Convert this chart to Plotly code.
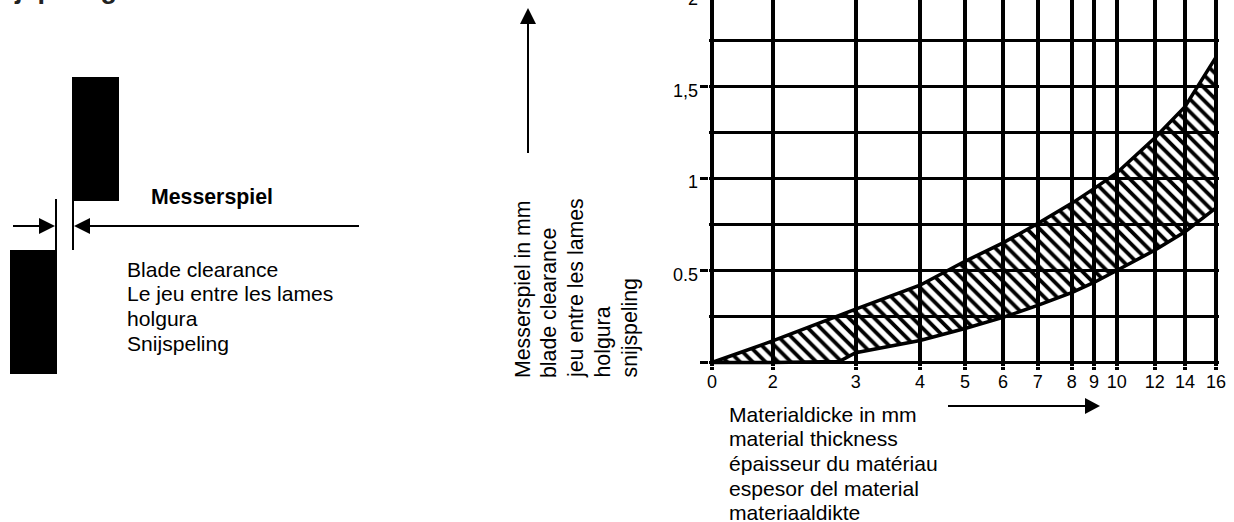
import numpy as np
import plotly.graph_objects as go

W, H = 1234, 522

# ---- data ----
thickness_ticks = [0, 2, 3, 4, 5, 6, 7, 8, 9, 10, 12, 14, 16]
upper_clearance = [0, 0.117, 0.29, 0.42, 0.55, 0.65, 0.755, 0.865, 0.945, 1.03, 1.22, 1.39, 1.66]
lower_thickness = [0, 2, 2.8, 3, 4, 5, 6, 7, 8, 9, 10, 12, 14, 16]
lower_clearance = [0, 0, 0.005, 0.053, 0.12, 0.185, 0.245, 0.31, 0.38, 0.435, 0.50, 0.61, 0.71, 0.84]
y_major = [0, 0.5, 1, 1.5, 2]
y_minor = [0.25, 0.75, 1.25, 1.75]
y_label_vals = [0.5, 1, 1.5, 2]
y_label_text = ["0.5", "1", "1,5", "2"]

blade_lines = ["Blade clearance", "Le jeu entre les lames", "holgura", "Snijspeling"]
y_title_lines = ["Messerspiel in mm", "blade clearance", "jeu entre les lames", "holgura", "snijspeling"]
x_title_lines = ["Materialdicke in mm", "material thickness", "épaisseur du matériau", "espesor del material", "materiaaldikte"]

# ---- hand-drawn non-uniform thickness scale of the printed chart ----
scale_marks = [712, 772.7, 855.7, 920, 965, 1003, 1037.7, 1071.7, 1094, 1116.7, 1154.7, 1185, 1216]
def pos(t):
    return np.interp(t, thickness_ticks, scale_marks).tolist()

Y0, UNIT = 362.5, 184.0
PAD = 3  # keeps the grid lines at 0 and 16 inside the axis range
FONT = "Liberation Sans"
px = lambda x: x / W
py = lambda y: 1 - y / H

fig = go.Figure()
ux, lx = pos(thickness_ticks), pos(lower_thickness)
fig.add_trace(go.Scatter(
    x=ux + lx[::-1], y=upper_clearance + lower_clearance[::-1], mode="none", fill="toself",
    fillcolor="rgba(0,0,0,0)", cliponaxis=False, hoverinfo="skip", showlegend=False,
    fillpattern=dict(shape="\\", size=9, solidity=0.42, fgcolor="#000000", fgopacity=1, bgcolor="rgba(0,0,0,0)")))
fig.add_trace(go.Scatter(x=ux, y=upper_clearance, mode="lines", cliponaxis=False,
                         line=dict(color="black", width=3.5), showlegend=False))
fig.add_trace(go.Scatter(x=lx, y=lower_clearance, mode="lines", cliponaxis=False,
                         line=dict(color="black", width=3.5), showlegend=False))

shapes = []
def rect(x0, y0, x1, y1):
    shapes.append(dict(type="rect", xref="paper", yref="paper", x0=px(x0), x1=px(x1), y0=py(y0), y1=py(y1),
                       fillcolor="black", line=dict(width=0)))
def line(x0, y0, x1, y1, w=2):
    shapes.append(dict(type="line", xref="paper", yref="paper", x0=px(x0), x1=px(x1), y0=py(y0), y1=py(y1),
                       line=dict(color="black", width=w)))
def tri(a, b, c):
    d = "M %f %f L %f %f L %f %f Z" % (px(a[0]), py(a[1]), px(b[0]), py(b[1]), px(c[0]), py(c[1]))
    shapes.append(dict(type="path", xref="paper", yref="paper", path=d, fillcolor="black", line=dict(width=0)))

rect(72, 77, 119, 201)
rect(10, 250, 57, 374)
line(56, 199, 56, 250)
line(73, 200, 73, 250)
line(13, 226, 45, 226)
tri((39, 218), (55, 226), (39, 234))
line(85, 226, 359, 226)
tri((90, 218), (74, 226), (90, 234))
line(528, 153, 528, 20)
tri((520, 24), (528, 8), (536, 24))
line(948, 406, 1088, 406)
tri((1085, 398), (1100, 406), (1085, 414))

ann = []
def text(x, y, s, size=21.1, bold=False, xanchor="left", yanchor="middle", angle=0, color="black"):
    ann.append(dict(xref="paper", yref="paper", x=px(x), y=py(y), text=("<b>%s</b>" % s) if bold else s,
                    showarrow=False, xanchor=xanchor, yanchor=yanchor, textangle=angle,
                    font=dict(family=FONT, size=size, color=color), borderpad=0, borderwidth=0))

text(-27, 4, "Snijspeling", size=27, bold=True, yanchor="bottom", color="#222222")
text(151, 197, "Messerspiel", size=21.3, bold=True)
for i, s in enumerate(blade_lines):
    text(127, 269 + i * 24.7, s)
for s, x in zip(y_title_lines, [523, 549, 576, 602, 629]):
    text(x, 378, s, size=21.3, angle=-90, xanchor="center", yanchor="bottom")
for i, s in enumerate(x_title_lines):
    text(729, 414 + i * 24.7, s)
for v, s in zip(y_label_vals, y_label_text):
    text(698, Y0 - v * UNIT + 4, s, size=18, xanchor="right")

fig.update_layout(
    width=W, height=H, autosize=False, margin=dict(l=0, r=0, t=0, b=0, autoexpand=False),
    paper_bgcolor="white", plot_bgcolor="white", showlegend=False,
    font=dict(family=FONT, color="black"), shapes=shapes, annotations=ann,
    xaxis=dict(domain=[px(scale_marks[0] - PAD), px(scale_marks[-1] + PAD)],
               range=[scale_marks[0] - PAD, scale_marks[-1] + PAD],
               tickmode="array", tickvals=scale_marks, ticktext=[str(t) for t in thickness_ticks],
               showgrid=True, gridcolor="black", gridwidth=4, zeroline=False, showline=False,
               ticks="outside", ticklen=3, tickwidth=4, tickcolor="black",
               tickfont=dict(family=FONT, size=18, color="black"), ticklabelstandoff=-3),
    yaxis=dict(domain=[py(Y0 + PAD), 1], range=[-PAD / UNIT, Y0 / UNIT],
               tickmode="array", tickvals=y_major, ticktext=["" for _ in y_major],
               showgrid=True, gridcolor="black", gridwidth=3, zeroline=False, showline=False,
               ticks="outside", ticklen=8, tickwidth=3, tickcolor="black",
               minor=dict(tickmode="array", tickvals=y_minor, showgrid=True, gridcolor="black", gridwidth=3, ticks="")),
)
fig.write_html("out.html", config=dict(displayModeBar=False),
               post_script="document.body.style.margin='0';document.documentElement.style.overflow='hidden';")
